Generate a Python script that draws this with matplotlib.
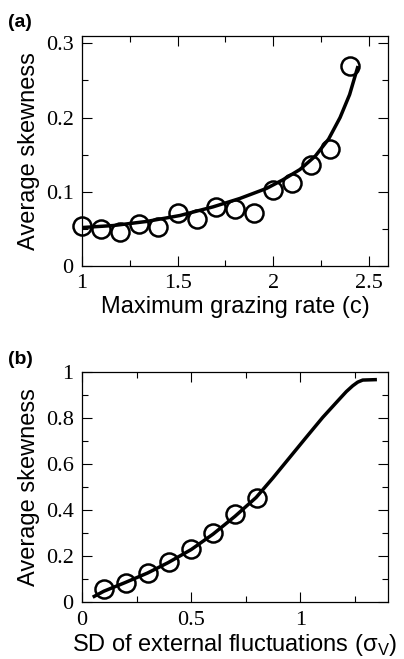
import numpy as np
import matplotlib.pyplot as plt
from matplotlib.ticker import MultipleLocator, FuncFormatter

# panel (a): skewness vs maximum grazing rate
grazing_rate = [1.0, 1.1, 1.2, 1.3, 1.4, 1.5, 1.6, 1.7, 1.8, 1.9, 2.0, 2.1, 2.2, 2.3, 2.4]
skew_a = [0.0535, 0.050, 0.046, 0.057, 0.053, 0.072, 0.063, 0.079, 0.077, 0.0715,
          0.103, 0.112, 0.136, 0.157, 0.270]
curve_a_x = [1.0, 1.164, 1.338, 1.512, 1.686, 1.826, 1.965, 2.05, 2.14, 2.22,
             2.29, 2.35, 2.40, 2.444]
curve_a_y = [0.0518, 0.0545, 0.060, 0.068, 0.0797, 0.091, 0.1045, 0.116, 0.130, 0.148,
             0.171, 0.200, 0.231, 0.2695]

# panel (b): skewness vs SD of external fluctuations
sd_ext = [0.1, 0.2, 0.3, 0.4, 0.5, 0.6, 0.7, 0.8]
skew_b = [0.056, 0.082, 0.126, 0.173, 0.230, 0.302, 0.383, 0.452]
curve_b_x = [0.049, 0.1, 0.196, 0.3, 0.394, 0.5, 0.6, 0.7, 0.797, 0.874, 0.95, 1.026,
             1.102, 1.178, 1.21, 1.239, 1.262, 1.285, 1.35]
curve_b_y = [0.022, 0.048, 0.085, 0.127, 0.172, 0.229, 0.296, 0.373, 0.455, 0.540, 0.628, 0.716,
             0.803, 0.882, 0.915, 0.940, 0.956, 0.965, 0.967]


def fmt(v, pos):
    s = f'{v:.2f}'.rstrip('0').rstrip('.')
    return s


def style_axes(ax):
    ax.tick_params(which='both', direction='in', top=True, right=True, width=0.8)
    ax.tick_params(which='major', length=7, pad=6, labelsize=16)
    ax.tick_params(which='minor', length=4)
    for lab in ax.get_xticklabels() + ax.get_yticklabels():
        lab.set_fontfamily('Liberation Serif')
    for sp in ax.spines.values():
        sp.set_linewidth(0.9)
    ax.xaxis.set_major_formatter(FuncFormatter(fmt))
    ax.yaxis.set_major_formatter(FuncFormatter(fmt))


plt.rcParams['font.family'] = 'Liberation Sans'
plt.rcParams['mathtext.fontset'] = 'custom'
plt.rcParams['mathtext.rm'] = 'Liberation Sans'

fig = plt.figure(figsize=(4.04, 6.59), dpi=100)

ax1 = fig.add_axes([0.203, 0.5964, 0.757, 0.349])
ax1.plot(curve_a_x, curve_a_y, color='black', lw=2.5, solid_capstyle='butt',
         solid_joinstyle='round')
ax1.plot(grazing_rate, skew_a, 'o', mfc='none', mec='black', ms=13, mew=1.8, clip_on=False)
ax1.set_xlim(1, 2.6)
ax1.set_ylim(0, 0.31)
ax1.xaxis.set_major_locator(MultipleLocator(0.5))
ax1.xaxis.set_minor_locator(MultipleLocator(0.25))
ax1.yaxis.set_major_locator(MultipleLocator(0.1))
ax1.yaxis.set_minor_locator(MultipleLocator(0.05))
style_axes(ax1)
ax1.set_xlabel('Maximum grazing rate (c)', fontsize=17, labelpad=2)
ax1.set_ylabel('Average skewness', fontsize=17, labelpad=4)
fig.text(0.02, 0.978, '(a)', fontsize=14, fontweight='bold', va='top')

ax2 = fig.add_axes([0.203, 0.0861, 0.757, 0.3494])
ax2.plot(curve_b_x, curve_b_y, color='black', lw=2.5, solid_capstyle='butt',
         solid_joinstyle='round')
ax2.plot(sd_ext, skew_b, 'o', mfc='none', mec='black', ms=13, mew=1.8)
ax2.set_xlim(0, 1.4)
ax2.set_ylim(0, 1)
ax2.xaxis.set_major_locator(MultipleLocator(0.5))
ax2.xaxis.set_minor_locator(MultipleLocator(0.25))
ax2.yaxis.set_major_locator(MultipleLocator(0.2))
ax2.yaxis.set_minor_locator(MultipleLocator(0.1))
style_axes(ax2)
ax2.set_xlabel('SD of external fluctuations (σ$_\\mathrm{V}$)', fontsize=17, labelpad=2)
ax2.set_ylabel('Average skewness', fontsize=17, labelpad=4)
fig.text(0.02, 0.468, '(b)', fontsize=14, fontweight='bold', va='top')

fig.savefig('out.png', dpi=100)
